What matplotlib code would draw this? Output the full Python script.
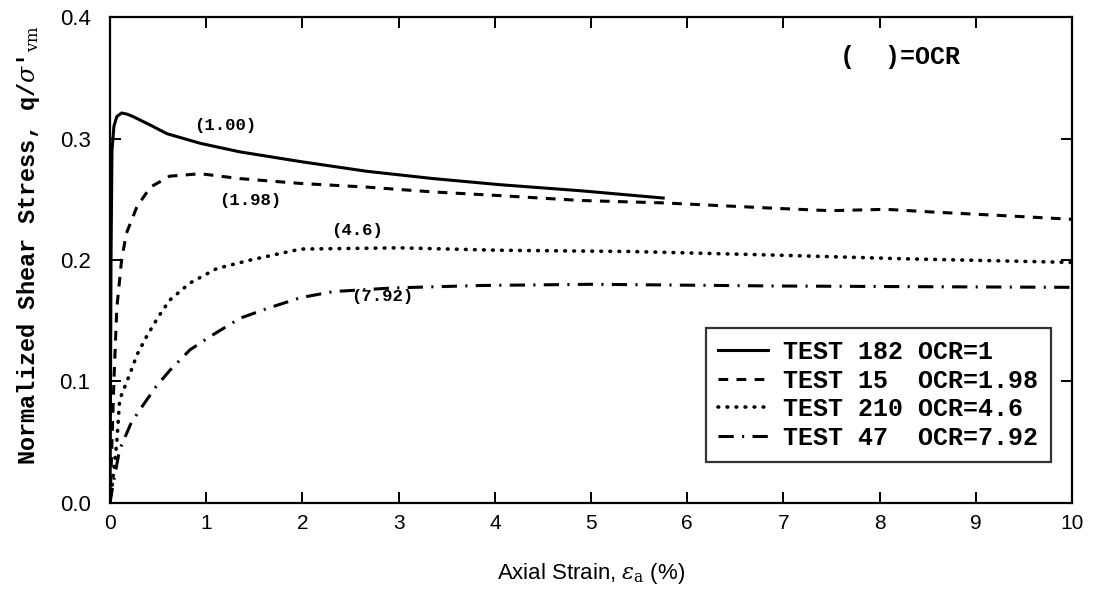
import matplotlib
matplotlib.use("Agg")
import matplotlib.pyplot as plt

plt.rcParams['lines.scale_dashes'] = False
plt.rcParams['mathtext.fontset'] = 'dejavuserif'

# ---- data ----
x_ocr1 = [0, 0.01, 0.02, 0.04, 0.07, 0.12, 0.18, 0.24, 0.42, 0.59, 0.94, 1.35, 1.98, 2.67, 3.36, 4.05, 4.89, 5.75]
y_ocr1 = [0, 0.20, 0.29, 0.310, 0.318, 0.321, 0.320, 0.318, 0.311, 0.304, 0.296, 0.289, 0.281, 0.273, 0.267,
          0.262, 0.257, 0.251]

x_ocr198 = [0, 0.02, 0.04, 0.07, 0.12, 0.17, 0.28, 0.42, 0.62, 0.94, 1.35, 1.98, 2.67, 3.36, 4.05, 4.89,
            5.75, 6.93, 7.48, 8.07, 8.59, 9.29, 10.0]
y_ocr198 = [0, 0.05, 0.10, 0.16, 0.20, 0.222, 0.244, 0.26, 0.269, 0.271, 0.267, 0.263, 0.26, 0.256, 0.253, 0.249,
            0.247, 0.2425, 0.2406, 0.2417, 0.2393, 0.2365, 0.2335]

x_ocr46 = [0, 0.03, 0.07, 0.10, 0.21, 0.28, 0.38, 0.5, 0.62, 0.83, 1.11, 1.46, 1.98, 3.01, 4.05, 5.41, 6.93, 8.25, 10.0]
y_ocr46 = [0, 0.02, 0.05, 0.085, 0.107, 0.122, 0.137, 0.153, 0.167, 0.181, 0.193, 0.2, 0.209, 0.21, 0.208, 0.207,
           0.204, 0.201, 0.198]

x_ocr792 = [0, 0.03, 0.1, 0.22, 0.33, 0.48, 0.62, 0.83, 1.04, 1.35, 1.63, 1.98, 2.32, 2.94, 3.85, 5.0, 6.93, 8.5, 10.0]
y_ocr792 = [0, 0.015, 0.044, 0.066, 0.079, 0.096, 0.109, 0.126, 0.137, 0.152, 0.160, 0.169, 0.174, 0.177, 0.179,
            0.180, 0.1786, 0.178, 0.1775]

legend_labels = ["TEST 182 OCR=1", "TEST 15  OCR=1.98", "TEST 210 OCR=4.6", "TEST 47  OCR=7.92"]
curve_labels = ["(1.00)", "(1.98)", "(4.6)", "(7.92)"]
curve_label_pos = [(1.2, 0.311), (1.46, 0.249), (2.57, 0.224), (2.83, 0.170)]
x_ticks = list(range(0, 11))
y_ticks = [0.0, 0.1, 0.2, 0.3, 0.4]
y_ticklabels = ["0.0", "0.1", "0.2", "0.3", "0.4"]

mono = ['Liberation Mono', 'DejaVu Sans Mono']
sans = ['Liberation Sans', 'DejaVu Sans']
narrow = ['Liberation Sans Narrow', 'Liberation Sans', 'DejaVu Sans']

fig = plt.figure(figsize=(11.06, 5.97), dpi=100)
ax = fig.add_axes([0.0995, 0.1575, 0.8698, 0.814])

lw = 2.2
ax.plot(x_ocr1, y_ocr1, color='black', lw=lw, solid_joinstyle='round', label=legend_labels[0])
l2, = ax.plot(x_ocr198, y_ocr198, color='black', lw=lw, label=legend_labels[1])
l2.set_dashes((7, 6))
l3, = ax.plot(x_ocr46, y_ocr46, color='black', lw=2.6, dash_capstyle='round', label=legend_labels[2])
l3.set_dashes((0.5, 6))
l4, = ax.plot(x_ocr792, y_ocr792, color='black', lw=lw, label=legend_labels[3])
l4.set_dashes((11, 6, 1.5, 6))

for txt, (xx, yy) in zip(curve_labels, curve_label_pos):
    ax.text(xx, yy, txt, family=mono, fontweight='bold', fontsize=12.5, ha='center', va='center')

ax.text(7.59, 0.367, "(  )=OCR", family=mono, fontweight='bold', fontsize=18, ha='left', va='center')

ax.set_xlim(0, 10)
ax.set_ylim(0, 0.4)
ax.set_xticks(x_ticks)
ax.set_yticks(y_ticks)
ax.set_yticklabels(y_ticklabels)
for lab in ax.get_xticklabels():
    lab.set_family(narrow)
    lab.set_fontsize(15)
for lab in ax.get_yticklabels():
    lab.set_family(sans)
    lab.set_fontsize(16)

ax.tick_params(axis='both', direction='in', length=8, width=1.4, top=True, right=True)
ax.tick_params(axis='x', pad=8)
ax.tick_params(axis='y', pad=14)
for sp in ax.spines.values():
    sp.set_linewidth(1.6)

ax.set_xlabel(r"Axial Strain, $\varepsilon_{\rm a}$ (%)", family=narrow, fontsize=16, labelpad=20)
ax.set_ylabel(r"Normalized Shear Stress, q/$\sigma$'$_{\rm vm}$", family=mono, fontweight='bold',
              fontsize=17)
ax.yaxis.set_label_coords(-0.071, 0.53)

leg = ax.legend(loc='lower right', bbox_to_anchor=(0.978, 0.084), prop={'family': mono, 'weight': 'bold', 'size': 18},
                frameon=True, fancybox=False, edgecolor='black', handlelength=2.0, handletextpad=0.6,
                labelspacing=0.18, borderpad=0.5, borderaxespad=0)
leg.get_frame().set_linewidth(1.6)

fig.savefig("out.png", dpi=100)
